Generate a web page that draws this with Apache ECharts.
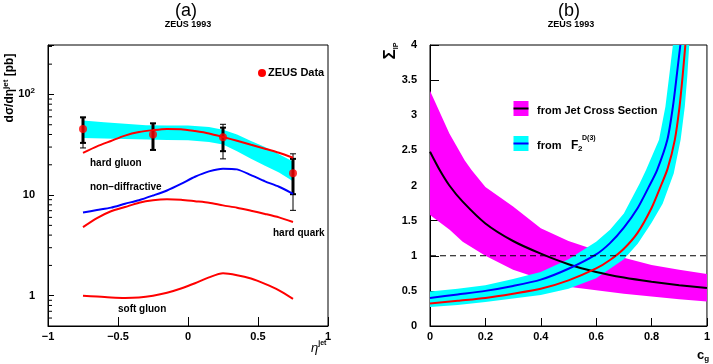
<!DOCTYPE html>
<html><head><meta charset="utf-8">
<script src="https://cdn.jsdelivr.net/npm/echarts@6/dist/echarts.min.js"></script>
<style>html,body{margin:0;padding:0;background:#fff}#c{width:713px;height:364px}</style>
</head><body><div id="c"></div>
<script>
const FONT = '"Liberation Sans", Arial, sans-serif';

// ---------- Panel (a): dσ/dη^jet ----------
const etaCurve   = [-0.75, -0.65, -0.55, -0.45, -0.35, -0.25, -0.15, -0.05, 0.05, 0.15, 0.25, 0.35, 0.45, 0.55, 0.65, 0.75];
const hardGluon  = [26.3, 30.5, 34.5, 39.0, 42.3, 44.2, 45.4, 45.2, 43.3, 41.0, 37.8, 34.6, 31.6, 28.9, 26.3, 23.5];
const nonDiff    = [6.7, 7.1, 7.5, 8.2, 8.9, 9.9, 11.1, 12.9, 15.2, 17.2, 18.3, 18.0, 15.8, 13.7, 12.1, 10.3];
const hardQuark  = [4.8, 5.9, 6.9, 7.6, 8.4, 8.9, 9.1, 9.0, 8.7, 8.4, 7.9, 7.5, 7.0, 6.5, 6.0, 5.4];
const softGluon  = [1.0, 0.98, 0.96, 0.95, 0.96, 1.0, 1.07, 1.18, 1.33, 1.52, 1.67, 1.6, 1.48, 1.31, 1.13, 0.93];

const etaBand    = [-0.75, -0.6, -0.45, -0.3, -0.15, 0, 0.15, 0.25, 0.35, 0.45, 0.55, 0.65, 0.75];
const bandUpper  = [55, 53, 51, 49.5, 49.2, 49, 47.6, 44.7, 40, 34.5, 30, 25.5, 21.5];
const bandLower  = [37, 36.5, 36, 35.6, 35.3, 35, 33.6, 31.8, 27.3, 23, 19.6, 16.8, 13.7];

const dataEta    = [-0.75, -0.25, 0.25, 0.75];
const dataVal    = [45.4, 39.9, 37.5, 16.5];
const statLo     = [33.0, 28.1, 27.3, 10.2];
const statHi     = [59.2, 51.6, 46.8, 22.9];
const totLo      = [29.4, 28.1, 22.9, 7.05];
const totHi      = [59.2, 51.6, 50.5, 25.7];

const minorLogTicks = [0.6, 0.7, 0.8, 0.9, 2, 3, 4, 5, 6, 7, 8, 9, 20, 30, 40, 50, 60, 70, 80, 90, 200, 300];

// ---------- Panel (b): Σ vs c_g ----------
const cgJet      = [0, 0.035, 0.07, 0.118, 0.2, 0.3, 0.4, 0.5, 0.6, 0.7, 0.8, 0.9, 1.0];
const jetCentral = [2.48, 2.22, 2.0, 1.77, 1.46, 1.21, 1.03, 0.88, 0.77, 0.69, 0.63, 0.58, 0.54];
const cgJetUp    = [0, 0.07, 0.125, 0.15, 0.2, 0.3, 0.4, 0.5, 0.6, 0.7, 0.8, 0.9, 1.0];
const jetUpper   = [3.35, 2.74, 2.36, 2.22, 1.98, 1.70, 1.39, 1.21, 1.08, 0.97, 0.87, 0.80, 0.74];
const cgJetLo    = [0, 0.071, 0.118, 0.2, 0.3, 0.4, 0.5, 0.6, 0.7, 0.8, 0.9, 1.0];
const jetLower   = [1.58, 1.37, 1.20, 1.0, 0.80, 0.67, 0.56, 0.51, 0.46, 0.42, 0.38, 0.35];

const cgBlue     = [0, 0.1, 0.2, 0.3, 0.4, 0.5, 0.6, 0.65, 0.7, 0.75, 0.79, 0.82, 0.857, 0.877, 0.892, 0.904];
const f2Blue     = [0.40, 0.45, 0.50, 0.57, 0.66, 0.815, 1.02, 1.18, 1.40, 1.68, 1.98, 2.22, 2.65, 3.12, 3.6, 4.0];
const cgRed      = [0, 0.1, 0.2, 0.3, 0.4, 0.5, 0.6, 0.65, 0.7, 0.75, 0.8, 0.83, 0.858, 0.884, 0.901, 0.912, 0.922];
const f2Red      = [0.32, 0.36, 0.40, 0.46, 0.53, 0.65, 0.82, 0.94, 1.10, 1.33, 1.68, 1.96, 2.24, 2.65, 3.12, 3.55, 4.0];
const cgF2Up     = [0, 0.1, 0.2, 0.3, 0.4, 0.5, 0.6, 0.65, 0.7, 0.757, 0.78, 0.827, 0.85, 0.865, 0.877];
const f2Upper    = [0.49, 0.53, 0.58, 0.67, 0.77, 0.95, 1.20, 1.37, 1.60, 2.03, 2.22, 2.65, 3.12, 3.6, 4.0];
const cgF2Lo     = [0, 0.1, 0.2, 0.3, 0.4, 0.5, 0.6, 0.7, 0.75, 0.8, 0.84, 0.88, 0.905, 0.92, 0.929, 0.936];
const f2Lower    = [0.27, 0.30, 0.34, 0.39, 0.44, 0.53, 0.68, 0.95, 1.17, 1.47, 1.74, 2.17, 2.65, 3.12, 3.55, 4.0];

const refLine    = [[0, 1], [1, 1]];

// ---------- helpers ----------
const zip = (xs, ys) => xs.map((x, i) => [x, ys[i]]);
function bandPoints(xu, yu, xl, yl) {
  return zip(xu, yu).concat(zip(xl, yl).reverse());
}
function polygonSeries(xi, pts, color) {
  return {
    type: 'custom', xAxisIndex: xi, yAxisIndex: xi, silent: true, clip: false,
    data: [pts[0]],
    renderItem: (params, api) => ({
      type: 'polygon',
      shape: { points: pts.map(p => api.coord(p)) },
      style: { fill: color }
    })
  };
}
function lineSeries(xi, pts, color, width, extra) {
  return Object.assign({
    type: 'line', xAxisIndex: xi, yAxisIndex: xi, data: pts, showSymbol: false, symbol: 'none',
    smooth: 0.25, silent: true, lineStyle: { color: color, width: width }
  }, extra || {});
}

const axisCommon = {
  axisLine: { onZero: false, lineStyle: { color: '#000', width: 1 } },
  splitLine: { show: false },
  axisLabel: { color: '#000', fontFamily: FONT, fontSize: 11, fontWeight: 'bold' }
};

const option = {
  animation: false,
  backgroundColor: '#fff',
  grid: [
    { left: 48, top: 45, width: 280, height: 281, show: true, borderColor: '#000', borderWidth: 1 },
    { left: 430, top: 45, width: 282, height: 281, show: true, borderColor: '#000', borderWidth: 1 }
  ],
  xAxis: [
    Object.assign({}, axisCommon, {
      gridIndex: 0, type: 'value', min: -1, max: 1, interval: 0.5,
      axisTick: { inside: true, length: 9, lineStyle: { color: '#000' } },
      axisLabel: Object.assign({}, axisCommon.axisLabel, { margin: 5, formatter: v => String(v).replace('-', '\u2212') })
    }),
    Object.assign({}, axisCommon, {
      gridIndex: 1, type: 'value', min: 0, max: 1, interval: 0.2,
      axisTick: { inside: true, length: 8, lineStyle: { color: '#000' } },
      axisLabel: Object.assign({}, axisCommon.axisLabel, { margin: 5 })
    })
  ],
  yAxis: [
    Object.assign({}, axisCommon, {
      gridIndex: 0, type: 'log', logBase: 10, min: 0.5, max: 310,
      axisTick: { inside: true, length: 6, lineStyle: { color: '#000' } },
      axisLabel: Object.assign({}, axisCommon.axisLabel, {
        margin: 13, lineHeight: 16,
        formatter: v => {
          const l = Math.log10(v);
          if (Math.abs(l - Math.round(l)) > 1e-6) return '';
          const e = Math.round(l);
          if (e === 0) return '1';
          if (e === 1) return '10';
          if (e === 2) return '10{sup|2}';
          return '';
        },
        rich: { sup: { fontFamily: FONT, fontSize: 8, fontWeight: 'bold', color: '#000', lineHeight: 8, verticalAlign: 'top' } }
      })
    }),
    Object.assign({}, axisCommon, {
      gridIndex: 1, type: 'value', min: 0, max: 4, interval: 0.5,
      axisTick: { inside: true, length: 9, lineStyle: { color: '#000' } },
      axisLabel: Object.assign({}, axisCommon.axisLabel, { margin: 13 })
    })
  ],
  series: [
    // panel (a)
    polygonSeries(0, bandPoints(etaBand, bandUpper, etaBand, bandLower), '#00ffff'),
    lineSeries(0, zip(etaCurve, hardGluon), '#ff0000', 2),
    lineSeries(0, zip(etaCurve, nonDiff), '#0000ff', 2),
    lineSeries(0, zip(etaCurve, hardQuark), '#ff0000', 2),
    lineSeries(0, zip(etaCurve, softGluon), '#ff0000', 2),
    {
      type: 'custom', xAxisIndex: 0, yAxisIndex: 0, silent: true, clip: false,
      data: dataEta.map((x, i) => [x, dataVal[i], statLo[i], statHi[i], totLo[i], totHi[i]]),
      encode: { x: 0, y: 1 },
      renderItem: (params, api) => {
        const x = api.value(0);
        const c = api.coord([x, api.value(1)]);
        const sLo = api.coord([x, api.value(2)]), sHi = api.coord([x, api.value(3)]);
        const tLo = api.coord([x, api.value(4)]), tHi = api.coord([x, api.value(5)]);
        const cx = c[0], hw = 3;
        const ln = (x1, y1, x2, y2, w) => ({ type: 'line', shape: { x1, y1, x2, y2 }, style: { stroke: '#000', lineWidth: w } });
        return { type: 'group', children: [
          ln(cx, tLo[1], cx, tHi[1], 1),
          ln(cx - hw, tLo[1], cx + hw, tLo[1], 1),
          ln(cx - hw, tHi[1], cx + hw, tHi[1], 1),
          ln(cx, sLo[1], cx, sHi[1], 3),
          ln(cx - hw, sLo[1], cx + hw, sLo[1], 2),
          ln(cx - hw, sHi[1], cx + hw, sHi[1], 2)
        ] };
      }
    },
    {
      type: 'scatter', xAxisIndex: 0, yAxisIndex: 0, silent: true,
      data: zip(dataEta, dataVal), symbol: 'circle', symbolSize: 8,
      itemStyle: { color: '#ff0000' }
    },
    {
      type: 'custom', xAxisIndex: 0, yAxisIndex: 0, silent: true, clip: false,
      data: minorLogTicks.map(v => [-1, v]),
      encode: { x: 0, y: 1 },
      renderItem: (params, api) => {
        const p = api.coord([-1, api.value(1)]);
        return { type: 'line', shape: { x1: p[0], y1: p[1], x2: p[0] + 4, y2: p[1] }, style: { stroke: '#000', lineWidth: 1 } };
      }
    },
    // panel (b)
    polygonSeries(1, bandPoints(cgJetUp, jetUpper, cgJetLo, jetLower), '#ff00ff'),
    polygonSeries(1, bandPoints(cgF2Up, f2Upper, cgF2Lo, f2Lower), '#00ffff'),
    lineSeries(1, zip(cgJet, jetCentral), '#000000', 2),
    lineSeries(1, zip(cgBlue, f2Blue), '#0000ff', 2),
    lineSeries(1, zip(cgRed, f2Red), '#ff0000', 2),
    lineSeries(1, refLine, '#000000', 1, { smooth: false, lineStyle: { color: '#000', width: 1, type: [6, 4] } })
  ],
  graphic: [
    { type: 'text', x: 186, y: 11, style: { text: '(a)', font: '18px ' + FONT, fill: '#000', align: 'center', verticalAlign: 'middle' } },
    { type: 'text', x: 188, y: 25, style: { text: 'ZEUS 1993', font: 'bold 9px ' + FONT, fill: '#000', align: 'center', verticalAlign: 'middle' } },
    { type: 'text', x: 569, y: 11, style: { text: '(b)', font: '18px ' + FONT, fill: '#000', align: 'center', verticalAlign: 'middle' } },
    { type: 'text', x: 571, y: 25, style: { text: 'ZEUS 1993', font: 'bold 9px ' + FONT, fill: '#000', align: 'center', verticalAlign: 'middle' } },
    { type: 'text', x: 10, y: 88, rotation: Math.PI / 2, style: {
        text: 'd\u03c3/d\u03b7{sup|jet} [pb]', font: 'bold 12px ' + FONT, fill: '#000', align: 'center', verticalAlign: 'middle', lineHeight: 16,
        rich: { sup: { font: 'bold 8px ' + FONT, fill: '#000', lineHeight: 8, verticalAlign: 'top' } } } },
    { type: 'text', x: 311, y: 348, style: {
        text: '\u03b7{sup|jet}', font: 'italic 13px ' + FONT, fill: '#000', align: 'left', verticalAlign: 'middle', lineHeight: 16,
        rich: { sup: { font: 'bold 7px ' + FONT, fill: '#000', lineHeight: 7, verticalAlign: 'top' } } } },
    { type: 'circle', shape: { cx: 262, cy: 73, r: 4 }, style: { fill: '#ff0000' } },
    { type: 'text', x: 268, y: 73, style: { text: 'ZEUS Data', font: 'bold 11px ' + FONT, fill: '#000', align: 'left', verticalAlign: 'middle' } },
    { type: 'text', x: 90, y: 163, style: { text: 'hard gluon', font: 'bold 10px ' + FONT, fill: '#000', align: 'left', verticalAlign: 'middle' } },
    { type: 'text', x: 90, y: 187, style: { text: 'non\u2013diffractive', font: 'bold 10px ' + FONT, fill: '#000', align: 'left', verticalAlign: 'middle' } },
    { type: 'text', x: 273, y: 233, style: { text: 'hard quark', font: 'bold 10px ' + FONT, fill: '#000', align: 'left', verticalAlign: 'middle' } },
    { type: 'text', x: 118, y: 309, style: { text: 'soft gluon', font: 'bold 10px ' + FONT, fill: '#000', align: 'left', verticalAlign: 'middle' } },
    { type: 'text', x: 390, y: 51, rotation: Math.PI / 2, style: {
        text: '\u03a3{sub|IP}', font: 'bold 17px ' + FONT, fill: '#000', align: 'center', verticalAlign: 'middle', lineHeight: 20,
        rich: { sub: { font: 'bold 7px ' + FONT, fill: '#000', lineHeight: 8, verticalAlign: 'bottom' } } } },
    { type: 'text', x: 697, y: 355, style: {
        text: 'c{sub|g}', font: 'bold 13px ' + FONT, fill: '#000', align: 'left', verticalAlign: 'middle', lineHeight: 16,
        rich: { sub: { font: 'bold 8px ' + FONT, fill: '#000', lineHeight: 8, verticalAlign: 'bottom' } } } },
    { type: 'rect', shape: { x: 513.5, y: 101, width: 15, height: 15 }, style: { fill: '#ff00ff' } },
    { type: 'line', shape: { x1: 513.5, y1: 108.5, x2: 528.5, y2: 108.5 }, style: { stroke: '#000', lineWidth: 2 } },
    { type: 'text', x: 537, y: 111, style: { text: 'from Jet Cross Section', font: 'bold 11px ' + FONT, fill: '#000', align: 'left', verticalAlign: 'middle' } },
    { type: 'rect', shape: { x: 513.5, y: 136, width: 15, height: 15 }, style: { fill: '#00ffff' } },
    { type: 'line', shape: { x1: 513.5, y1: 143.5, x2: 528.5, y2: 143.5 }, style: { stroke: '#0000ff', lineWidth: 2 } },
    { type: 'text', x: 537, y: 146, style: { text: 'from', font: 'bold 11px ' + FONT, fill: '#000', align: 'left', verticalAlign: 'middle' } },
    { type: 'text', x: 571, y: 146, style: { text: 'F', font: 'bold 12px ' + FONT, fill: '#000', align: 'left', verticalAlign: 'middle' } },
    { type: 'text', x: 578, y: 149, style: { text: '2', font: 'bold 8px ' + FONT, fill: '#000', align: 'left', verticalAlign: 'middle' } },
    { type: 'text', x: 582, y: 138.5, style: { text: 'D(3)', font: 'bold 7px ' + FONT, fill: '#000', align: 'left', verticalAlign: 'middle' } }
  ]
};

const chart = echarts.init(document.getElementById('c'), null, { renderer: 'canvas' });
chart.setOption(option);
</script>
</body></html>
